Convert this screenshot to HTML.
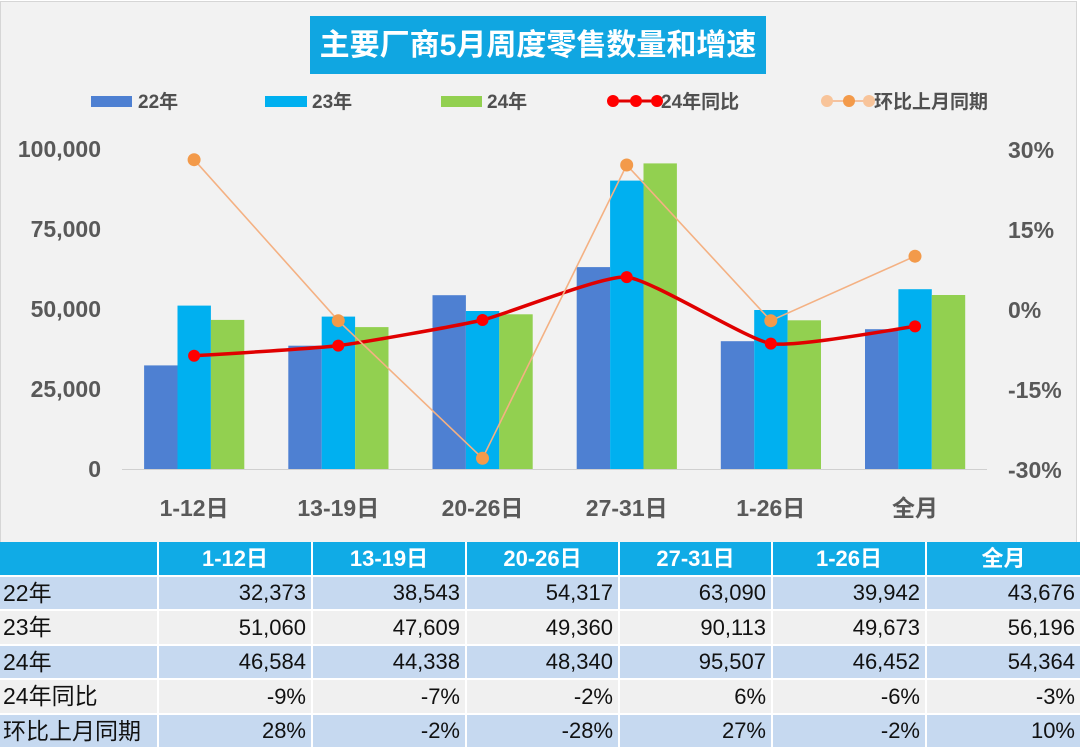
<!DOCTYPE html>
<html>
<head>
<meta charset="utf-8">
<style>
  html,body{margin:0;padding:0;background:#ffffff;}
  #wrap{position:relative;width:1080px;height:747px;overflow:hidden;background:#ffffff;
    font-family:"Liberation Sans","Noto Sans CJK SC",sans-serif;}
  svg{position:absolute;left:0;top:0;}
  .c{position:absolute;box-sizing:border-box;font-size:22px;color:#111;line-height:1;
     display:flex;align-items:center;white-space:nowrap;}
  .h{background:#10abe6;color:#fff;font-weight:bold;justify-content:center;}
  .b{background:#c6d9f0;}
  .g{background:#f0f0f0;}
  .n{justify-content:flex-end;padding-right:5px;}
  .l{justify-content:flex-start;padding-left:3px;font-size:23px;}
</style>
</head>
<body>
<div id="wrap">
<svg width="1080" height="542" viewBox="0 0 1080 542" xmlns="http://www.w3.org/2000/svg"
     font-family="Liberation Sans, Noto Sans CJK SC, sans-serif">
  <rect x="0.5" y="1.5" width="1076" height="545" fill="#f2f2f2" stroke="#d6d6d6" stroke-width="1"/>

  <!-- title -->
  <rect x="310" y="16" width="456" height="58" fill="#10a6e1"/>
  <text x="538" y="55" text-anchor="middle" font-size="30" font-weight="bold" fill="#ffffff">主要厂商5月周度零售数量和增速</text>

  <!-- legend -->
  <rect x="91" y="96" width="41" height="11" fill="#4e80d2"/>
  <text x="138" y="108" font-size="19" font-weight="bold" fill="#505050">22年</text>
  <rect x="265" y="96" width="42" height="11" fill="#00b0f0"/>
  <text x="312" y="108" font-size="19" font-weight="bold" fill="#505050">23年</text>
  <rect x="441" y="96" width="41" height="11" fill="#92d050"/>
  <text x="487" y="108" font-size="19" font-weight="bold" fill="#505050">24年</text>

  <line x1="610" y1="101" x2="660" y2="101" stroke="#e00000" stroke-width="3"/>
  <circle cx="613" cy="101" r="6" fill="#ff0000"/>
  <circle cx="636" cy="101" r="6" fill="#ff0000"/>
  <circle cx="657" cy="101" r="6" fill="#ff0000"/>
  <text x="661" y="108" font-size="19" font-weight="bold" fill="#505050">24年同比</text>

  <line x1="827" y1="101" x2="869" y2="101" stroke="#f4b183" stroke-width="1.5"/>
  <circle cx="827" cy="101" r="6" fill="#f8c49a"/>
  <circle cx="849" cy="101" r="6" fill="#f39a4a"/>
  <circle cx="869" cy="101" r="6" fill="#f8c49a"/>
  <text x="874" y="108" font-size="19" font-weight="bold" fill="#505050">环比上月同期</text>

  <!-- left axis labels -->
  <g font-size="23" font-weight="bold" fill="#595959" text-anchor="end">
    <text x="101" y="157">100,000</text>
    <text x="101" y="237">75,000</text>
    <text x="101" y="317">50,000</text>
    <text x="101" y="397">25,000</text>
    <text x="101" y="477">0</text>
  </g>
  <!-- right axis labels -->
  <g font-size="23" font-weight="bold" fill="#595959" text-anchor="start">
    <text x="1008" y="158">30%</text>
    <text x="1008" y="238">15%</text>
    <text x="1008" y="318">0%</text>
    <text x="1008" y="398">-15%</text>
    <text x="1008" y="478">-30%</text>
  </g>

  <!-- bars -->
  <g>
    <g fill="#4e80d2">
      <rect x="144.1" y="365.4" width="33.4" height="103.6"/>
      <rect x="288.3" y="345.7" width="33.4" height="123.3"/>
      <rect x="432.5" y="295.2" width="33.4" height="173.8"/>
      <rect x="576.7" y="267.1" width="33.4" height="201.9"/>
      <rect x="720.8" y="341.2" width="33.4" height="127.8"/>
      <rect x="865.0" y="329.2" width="33.4" height="139.8"/>
    </g>
    <g fill="#00b0f0">
      <rect x="177.5" y="305.6" width="33.4" height="163.4"/>
      <rect x="321.7" y="316.6" width="33.4" height="152.4"/>
      <rect x="465.9" y="311.0" width="33.4" height="158.0"/>
      <rect x="610.1" y="180.6" width="33.4" height="288.4"/>
      <rect x="754.2" y="310.0" width="33.4" height="159.0"/>
      <rect x="898.4" y="289.2" width="33.4" height="179.8"/>
    </g>
    <g fill="#92d050">
      <rect x="210.9" y="319.9" width="33.4" height="149.1"/>
      <rect x="355.1" y="327.1" width="33.4" height="141.9"/>
      <rect x="499.3" y="314.3" width="33.4" height="154.7"/>
      <rect x="643.5" y="163.4" width="33.4" height="305.6"/>
      <rect x="787.6" y="320.3" width="33.4" height="148.7"/>
      <rect x="931.8" y="295.0" width="33.4" height="174.0"/>
    </g>
  </g>

  <!-- axis line -->
  <line x1="122" y1="469.5" x2="987" y2="469.5" stroke="#d0d0d0" stroke-width="1"/>

  <!-- x labels -->
  <g font-size="23" font-weight="bold" fill="#595959" text-anchor="middle">
    <text x="194.1" y="516">1-12日</text>
    <text x="338.3" y="516">13-19日</text>
    <text x="482.5" y="516">20-26日</text>
    <text x="626.7" y="516">27-31日</text>
    <text x="770.8" y="516">1-26日</text>
    <text x="915.0" y="516">全月</text>
  </g>

  <!-- red line (mild smoothing) -->
  <path d="M194.1,355.8 C206.1,355.0 314.3,348.6 338.3,345.6 C362.3,342.6 458.5,325.7 482.5,320.0 C506.5,314.3 602.7,275.1 626.7,277.1 C650.7,279.1 746.8,339.5 770.8,343.6 C794.8,347.7 903.0,327.8 915.0,326.4"
        fill="none" stroke="#e00000" stroke-width="3.5" stroke-linejoin="round"/>

  <!-- orange line -->
  <polyline points="194.1,159.7 338.3,320.7 482.5,458.3 626.7,165.0 770.8,320.7 915.0,256.2"
        fill="none" stroke="#f4b183" stroke-width="1.6"/>

  <!-- red markers -->
  <g fill="#ff0000">
    <circle cx="194.1" cy="355.8" r="6"/>
    <circle cx="338.3" cy="345.6" r="6"/>
    <circle cx="482.5" cy="320.0" r="6"/>
    <circle cx="626.7" cy="277.1" r="6"/>
    <circle cx="770.8" cy="343.6" r="6"/>
    <circle cx="915.0" cy="326.4" r="6"/>
  </g>
  <!-- orange markers -->
  <g fill="#f39a4a">
    <circle cx="194.1" cy="159.7" r="6.5"/>
    <circle cx="338.3" cy="320.7" r="6.5"/>
    <circle cx="482.5" cy="458.3" r="6.5"/>
    <circle cx="626.7" cy="165.0" r="6.5"/>
    <circle cx="770.8" cy="320.7" r="6.5"/>
    <circle cx="915.0" cy="256.2" r="6.5"/>
  </g>
</svg>

<!-- table -->
<div class="c h" style="left:0;top:542px;width:157px;height:33px;"></div>
<div class="c h" style="left:159px;top:542px;width:152px;height:33px;">1-12日</div>
<div class="c h" style="left:313px;top:542px;width:152px;height:33px;">13-19日</div>
<div class="c h" style="left:467px;top:542px;width:151px;height:33px;">20-26日</div>
<div class="c h" style="left:620px;top:542px;width:151px;height:33px;">27-31日</div>
<div class="c h" style="left:773px;top:542px;width:152px;height:33px;">1-26日</div>
<div class="c h" style="left:927px;top:542px;width:153px;height:33px;">全月</div>

<div class="c b l" style="left:0;top:577px;width:157px;height:32px;">22年</div>
<div class="c b n" style="left:159px;top:577px;width:152px;height:32px;">32,373</div>
<div class="c b n" style="left:313px;top:577px;width:152px;height:32px;">38,543</div>
<div class="c b n" style="left:467px;top:577px;width:151px;height:32px;">54,317</div>
<div class="c b n" style="left:620px;top:577px;width:151px;height:32px;">63,090</div>
<div class="c b n" style="left:773px;top:577px;width:152px;height:32px;">39,942</div>
<div class="c b n" style="left:927px;top:577px;width:153px;height:32px;">43,676</div>

<div class="c g l" style="left:0;top:611px;width:157px;height:33px;">23年</div>
<div class="c g n" style="left:159px;top:611px;width:152px;height:33px;">51,060</div>
<div class="c g n" style="left:313px;top:611px;width:152px;height:33px;">47,609</div>
<div class="c g n" style="left:467px;top:611px;width:151px;height:33px;">49,360</div>
<div class="c g n" style="left:620px;top:611px;width:151px;height:33px;">90,113</div>
<div class="c g n" style="left:773px;top:611px;width:152px;height:33px;">49,673</div>
<div class="c g n" style="left:927px;top:611px;width:153px;height:33px;">56,196</div>

<div class="c b l" style="left:0;top:646px;width:157px;height:32px;">24年</div>
<div class="c b n" style="left:159px;top:646px;width:152px;height:32px;">46,584</div>
<div class="c b n" style="left:313px;top:646px;width:152px;height:32px;">44,338</div>
<div class="c b n" style="left:467px;top:646px;width:151px;height:32px;">48,340</div>
<div class="c b n" style="left:620px;top:646px;width:151px;height:32px;">95,507</div>
<div class="c b n" style="left:773px;top:646px;width:152px;height:32px;">46,452</div>
<div class="c b n" style="left:927px;top:646px;width:153px;height:32px;">54,364</div>

<div class="c g l" style="left:0;top:680px;width:157px;height:33px;">24年同比</div>
<div class="c g n" style="left:159px;top:680px;width:152px;height:33px;">-9%</div>
<div class="c g n" style="left:313px;top:680px;width:152px;height:33px;">-7%</div>
<div class="c g n" style="left:467px;top:680px;width:151px;height:33px;">-2%</div>
<div class="c g n" style="left:620px;top:680px;width:151px;height:33px;">6%</div>
<div class="c g n" style="left:773px;top:680px;width:152px;height:33px;">-6%</div>
<div class="c g n" style="left:927px;top:680px;width:153px;height:33px;">-3%</div>

<div class="c b l" style="left:0;top:715px;width:157px;height:32px;">环比上月同期</div>
<div class="c b n" style="left:159px;top:715px;width:152px;height:32px;">28%</div>
<div class="c b n" style="left:313px;top:715px;width:152px;height:32px;">-2%</div>
<div class="c b n" style="left:467px;top:715px;width:151px;height:32px;">-28%</div>
<div class="c b n" style="left:620px;top:715px;width:151px;height:32px;">27%</div>
<div class="c b n" style="left:773px;top:715px;width:152px;height:32px;">-2%</div>
<div class="c b n" style="left:927px;top:715px;width:153px;height:32px;">10%</div>
</div>
</body>
</html>
